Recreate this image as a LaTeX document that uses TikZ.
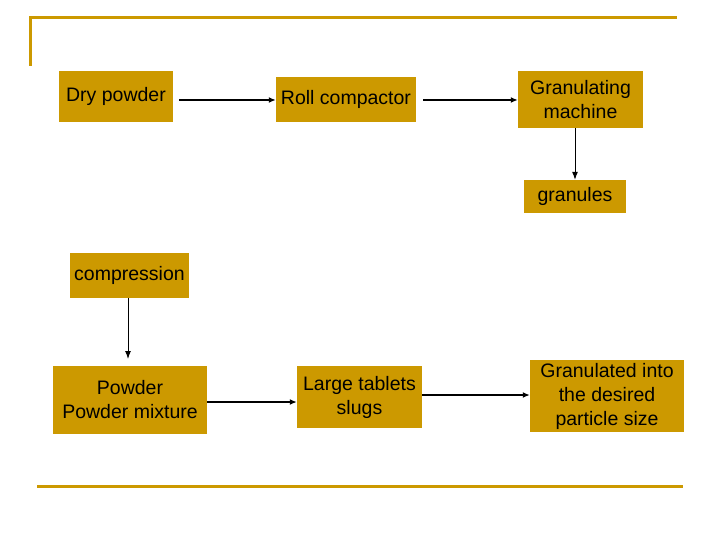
\documentclass[tikz,border=0pt]{standalone}
\usepackage{fontspec}
\setmainfont{Liberation Sans}
\usetikzlibrary{arrows.meta}
\definecolor{gold}{RGB}{204,153,0}
\tikzset{
  box/.style={rectangle, fill=gold, inner sep=0pt, align=center, font=\fontsize{19.5}{24}\selectfont, text=black},
  conn/.style={draw=black, line width=1.6pt, -{Latex[length=7pt,width=6pt]}},
  thinconn/.style={draw=black, line width=1pt, -{Latex[length=8pt,width=6pt]}},
  rule/.style={draw=gold, line width=3pt}
}
\begin{document}
\begin{tikzpicture}[x=1pt,y=-1pt]
\useasboundingbox (0,0) rectangle (720,540);
% decorative rules
\coordinate (tl) at (30,18);
\coordinate (tr) at (677,18);
\coordinate (lb) at (30,66);
\coordinate (bl) at (37,486);
\coordinate (br) at (683,486);
\draw[rule] (tr) -- (28.5,18);
\draw[rule] (tl) -- (lb);
\draw[rule] (bl) -- (br);
% boxes
\node[box, minimum width=114pt, minimum height=51pt] (dry) at (116,96.5) {Dry powder};
\node[box, minimum width=140pt, minimum height=45pt] (roll) at (346,99.5) {Roll compactor};
\node[box, minimum width=125pt, minimum height=57pt] (gm) at (580.5,99.5) {Granulating\\machine};
\node[box, minimum width=102pt, minimum height=33pt] (gran) at (575,196.5) {granules};
\node[box, minimum width=119pt, minimum height=45pt] (comp) at (129.5,275.5) {compression};
\node[box, minimum width=154pt, minimum height=68pt] (pow) at (130,400) {Powder\\Powder mixture};
\node[box, minimum width=125pt, minimum height=62pt] (slug) at (359.5,397) {Large tablets\\slugs};
\node[box, minimum width=154pt, minimum height=72pt] (gds) at (607,396) {Granulated into\\the desired\\particle size};
% connectors
\coordinate (a1s) at (179,100);
\draw[conn] (a1s) -- (roll.west |- a1s);
\coordinate (a2s) at (423,100);
\draw[conn] (a2s) -- (gm.west |- a2s);
\draw[thinconn] (gm.south -| gran.north) -- (gran.north);
\coordinate (a4e) at (128,359);
\draw[thinconn] (comp.south -| a4e) -- (a4e);
\coordinate (a5s) at (207,402);
\draw[conn] (a5s) -- (slug.west |- a5s);
\coordinate (a6s) at (422,395);
\draw[conn] (a6s) -- (gds.west |- a6s);
\end{tikzpicture}
\end{document}
